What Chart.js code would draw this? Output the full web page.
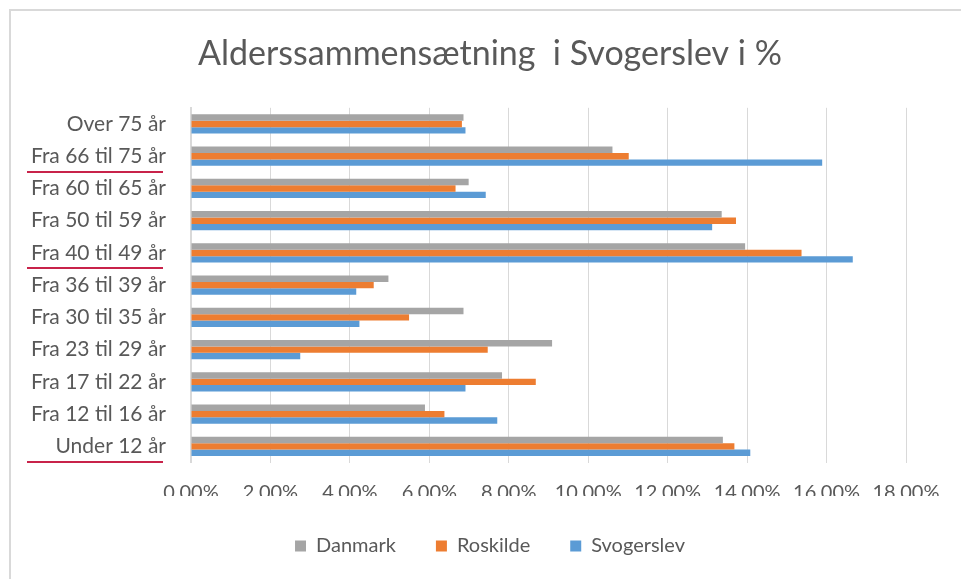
<!DOCTYPE html>
<html>
<head>
<meta charset="utf-8">
<script src="https://cdn.jsdelivr.net/npm/chart.js@4.4.1/dist/chart.umd.min.js"></script>
<style>
  html, body { margin: 0; padding: 0; background: #ffffff; }
  #wrap { position: relative; width: 961px; height: 579px; }
</style>
</head>
<body>
<div id="wrap"><canvas id="c" width="961" height="579"></canvas></div>
<script>
const categories = [
  'Over 75 år', 'Fra 66 til 75 år', 'Fra 60 til 65 år', 'Fra 50 til 59 år',
  'Fra 40 til 49 år', 'Fra 36 til 39 år', 'Fra 30 til 35 år', 'Fra 23 til 29 år',
  'Fra 17 til 22 år', 'Fra 12 til 16 år', 'Under 12 år'
];
const danmark    = [6.86, 10.61, 6.99, 13.36, 13.95, 4.97, 6.86, 9.09, 7.83, 5.89, 13.39];
const roskilde   = [6.82, 11.02, 6.66, 13.72, 15.37, 4.60, 5.49, 7.47, 8.68, 6.38, 13.68];
const svogerslev = [6.91, 15.89, 7.42, 13.12, 16.66, 4.16, 4.24, 2.75, 6.91, 7.71, 14.08];
const seriesNames = ['Danmark', 'Roskilde', 'Svogerslev'];
const xTicks = [0, 2, 4, 6, 8, 10, 12, 14, 16, 18];
const underlined = ['Fra 66 til 75 år', 'Fra 40 til 49 år', 'Under 12 år'];
const title = 'Alderssammensætning  i Svogerslev i %';

const FONT = 'Lato, "Open Sans", sans-serif';
const TXT = '#595959';

const decor = {
  id: 'decor',
  beforeDraw(chart) {
    const ctx = chart.ctx;
    ctx.save();
    ctx.strokeStyle = '#D9D9D9';
    ctx.lineWidth = 2;
    ctx.beginPath();
    ctx.moveTo(10, 579);
    ctx.lineTo(10, 10);
    ctx.lineTo(961, 10);
    ctx.stroke();
    ctx.restore();
  },
  afterDraw(chart) {
    const ctx = chart.ctx;
    const y = chart.scales.y;
    ctx.save();
    ctx.strokeStyle = '#C8234A';
    ctx.lineWidth = 2;
    underlined.forEach(lbl => {
      const i = categories.indexOf(lbl);
      const py = Math.round(y.getPixelForValue(i) + 15.5);
      ctx.beginPath();
      ctx.moveTo(27, py);
      ctx.lineTo(163, py);
      ctx.stroke();
    });
    ctx.restore();
  }
};

new Chart(document.getElementById('c'), {
  type: 'bar',
  data: {
    labels: categories,
    datasets: [
      { label: seriesNames[0], data: danmark, backgroundColor: '#A5A5A5' },
      { label: seriesNames[1], data: roskilde, backgroundColor: '#ED7D31' },
      { label: seriesNames[2], data: svogerslev, backgroundColor: '#5B9BD5' }
    ]
  },
  options: {
    indexAxis: 'y',
    responsive: false,
    animation: false,
    layout: { padding: { top: 0, left: 19, right: 0, bottom: 13 } },
    datasets: { bar: { categoryPercentage: 0.6, barPercentage: 1.0, borderWidth: 0 } },
    plugins: {
      title: {
        display: true, text: title, color: TXT,
        font: { family: FONT, size: 34, weight: 'normal' },
        padding: { top: 34, bottom: 33 }
      },
      legend: {
        position: 'bottom',
        labels: {
          color: TXT, boxWidth: 11, boxHeight: 11, padding: 40,
          font: { family: FONT, size: 20 }
        }
      },
      tooltip: { enabled: false }
    },
    scales: {
      x: {
        min: 0, max: 18,
        afterBuildTicks(s) { s.ticks = xTicks.map(v => ({ value: v })); },
        afterFit(s) { s.height = 33.5; },
        grid: { color: '#D9D9D9', lineWidth: 1, drawTicks: false },
        border: { display: false },
        ticks: {
          color: TXT, padding: 18,
          font: { family: FONT, size: 20 },
          maxRotation: 0, autoSkip: false,
          callback: v => v.toFixed(2).replace('.', ',') + '%'
        }
      },
      y: {
        afterFit(s) { s.width = 172; },
        grid: { display: false },
        border: { display: true, color: '#D9D9D9', width: 2 },
        ticks: {
          color: TXT, padding: 17,
          font: { family: FONT, size: 21 },
          autoSkip: false
        }
      },
      yRight: {
        type: 'category',
        position: 'right',
        labels: categories,
        afterFit(s) { s.width = 55; },
        grid: { display: false },
        border: { display: false },
        ticks: { display: false }
      }
    }
  },
  plugins: [decor]
});
</script>
</body>
</html>
